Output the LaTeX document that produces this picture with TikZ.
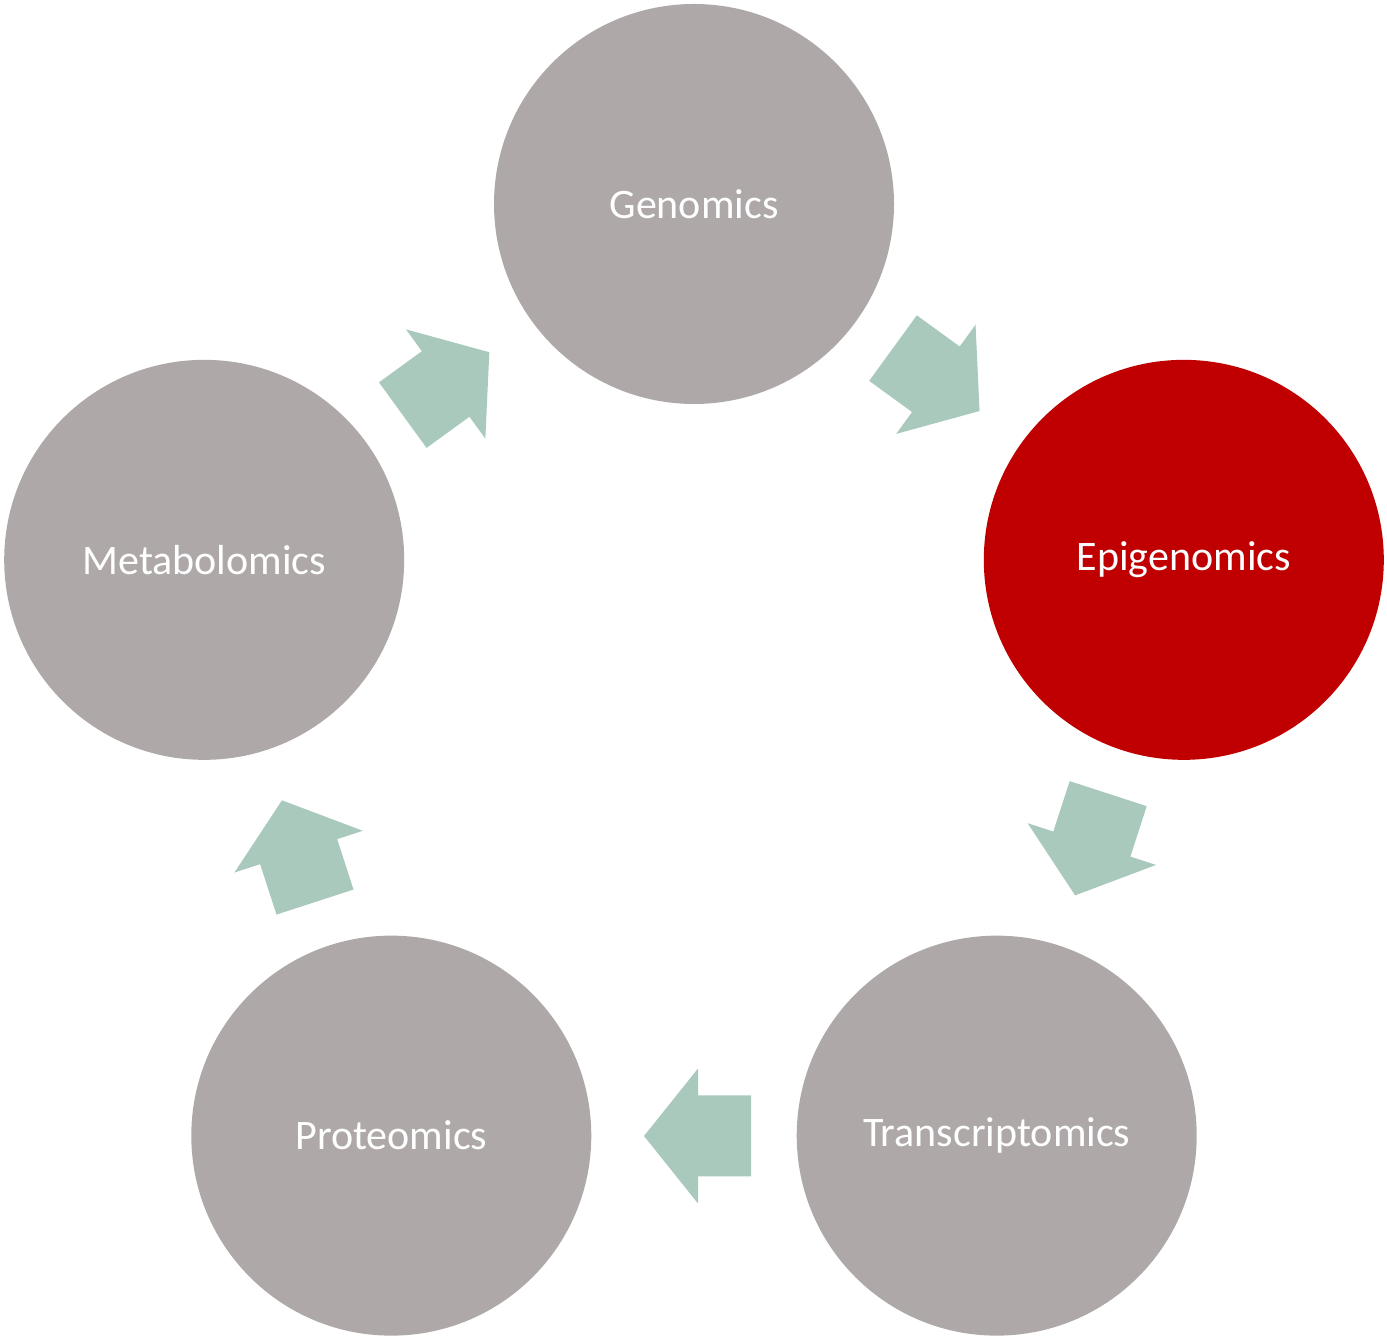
\documentclass[tikz,border=0pt]{standalone}
\usepackage{fontspec}
\setmainfont{Carlito}
\usetikzlibrary{calc}
\definecolor{circgray}{RGB}{174,169,168}
\definecolor{epired}{RGB}{192,0,0}
\definecolor{arrgreen}{RGB}{169,201,189}
\begin{document}
\begin{tikzpicture}[x=1pt,y=1pt,
  omic/.style={circle,fill=circgray,minimum size=400pt,inner sep=0pt,text=white,font=\fontsize{42}{50}\selectfont},
  cyclearrow/.pic={\fill[arrgreen] (-57,-40.5) -- (-4,-40.5) -- (-4,-67.5) -- (50,0) -- (-4,67.5) -- (-4,40.5) -- (-57,40.5) -- cycle;}]
\useasboundingbox (0,0) rectangle (1387,1341);
\coordinate (c) at (694,622);
\node[omic] (gen) at ($(c)+(90:515)$) {Genomics};
\node[omic,fill=epired] (epi) at ($(c)+(18:515)$) {Epigenomics};
\node[omic] (tra) at ($(c)+(-54:515)$) {Transcriptomics};
\node[omic] (pro) at ($(c)+(-126:515)$) {Proteomics};
\node[omic] (met) at ($(c)+(162:515)$) {Metabolomics};
\pic[rotate=-36] at ($(c)+(54:417)$) {cyclearrow};
\pic[rotate=-108] at ($(c)+(-18:417)$) {cyclearrow};
\pic[rotate=180] at ($(c)+(-90:417)$) {cyclearrow};
\pic[rotate=108] at ($(c)+(-162:417)$) {cyclearrow};
\pic[rotate=36] at ($(c)+(126:417)$) {cyclearrow};
\end{tikzpicture}
\end{document}
